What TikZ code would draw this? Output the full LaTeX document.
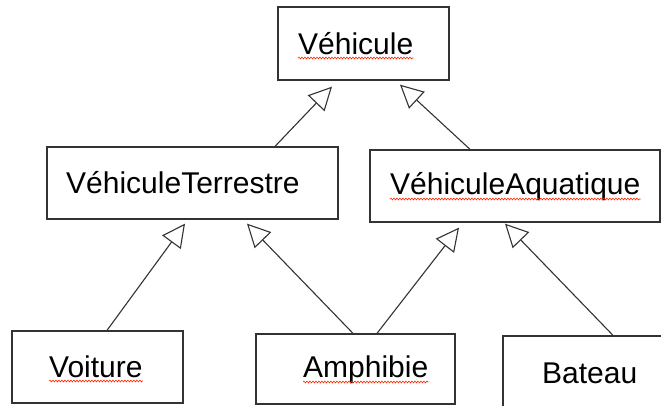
\documentclass[tikz,border=0pt]{standalone}
\usepackage{fontspec}
\setmainfont{Liberation Sans}
\usetikzlibrary{arrows.meta,decorations.pathmorphing}

\begin{document}
\begin{tikzpicture}[x=1pt,y=-1pt,
  cls/.style={draw=black!80,line width=1.3pt,inner sep=0pt},
  lbl/.style={anchor=base west,inner sep=0pt,font=\fontsize{30}{36}\selectfont},
  inh/.style={draw=black!80,line width=1.1pt,-{Triangle[open,length=23pt,width=23pt,line width=1.1pt]}},
  typo/.style={draw=red!70!orange,line width=0.6pt,decorate,decoration={snake,amplitude=0.9pt,segment length=3pt}}]
\useasboundingbox (0,0) rectangle (661,405);
\fill [white] (0,0) rectangle (661,405);
\node [cls,minimum width=171pt,minimum height=73pt] (veh) at (363.5,43.5) {};
\node [cls,minimum width=291pt,minimum height=72pt] (vt) at (192.5,183) {};
\node [cls,minimum width=290pt,minimum height=72pt] (va) at (515,186) {};
\node [cls,minimum width=171pt,minimum height=72pt] (voit) at (97.5,367) {};
\node [cls,minimum width=199pt,minimum height=70pt] (amph) at (355.5,369) {};
\node [cls,minimum width=169pt,minimum height=72pt] (bat) at (587.5,372) {};
\node [lbl] (veh-t) at (298,54) {Véhicule};
\node [lbl] (vt-t) at (66,193) {VéhiculeTerrestre};
\node [lbl] (va-t) at (390,194) {VéhiculeAquatique};
\node [lbl] (voit-t) at (49,377) {Voiture};
\node [lbl] (amph-t) at (303,377) {Amphibie};
\node [lbl] (bat-t) at (542,383) {Bateau};
\draw [typo] ([yshift=-4pt]veh-t.base west) -- ([yshift=-4pt]veh-t.base east);
\draw [typo] ([yshift=-5pt]va-t.base west) -- ([yshift=-5pt]va-t.base east);
\draw [typo] ([yshift=-4pt]voit-t.base west) -- ([yshift=-4pt]voit-t.base east);
\draw [typo] ([yshift=-5pt]amph-t.base west) -- ([yshift=-5pt]amph-t.base east);
\draw [inh] ([xshift=82.5pt]vt.north) -- ([xshift=-31.5pt,yshift=-6pt]veh.south);
\draw [inh] ([xshift=-45pt]va.north) -- ([xshift=36.5pt,yshift=-4pt]veh.south);
\draw [inh] ([xshift=9.5pt]voit.north) -- ([xshift=-7.5pt,yshift=-4pt]vt.south);
\draw [inh] ([xshift=-2.5pt]amph.north) -- ([xshift=54.5pt,yshift=-4pt]vt.south);
\draw [inh] ([xshift=21.5pt]amph.north) -- ([xshift=-56pt,yshift=-5pt]va.south);
\draw [inh] ([xshift=25.5pt]bat.north) -- ([xshift=-10pt,yshift=-1pt]va.south);
\end{tikzpicture}
\end{document}
